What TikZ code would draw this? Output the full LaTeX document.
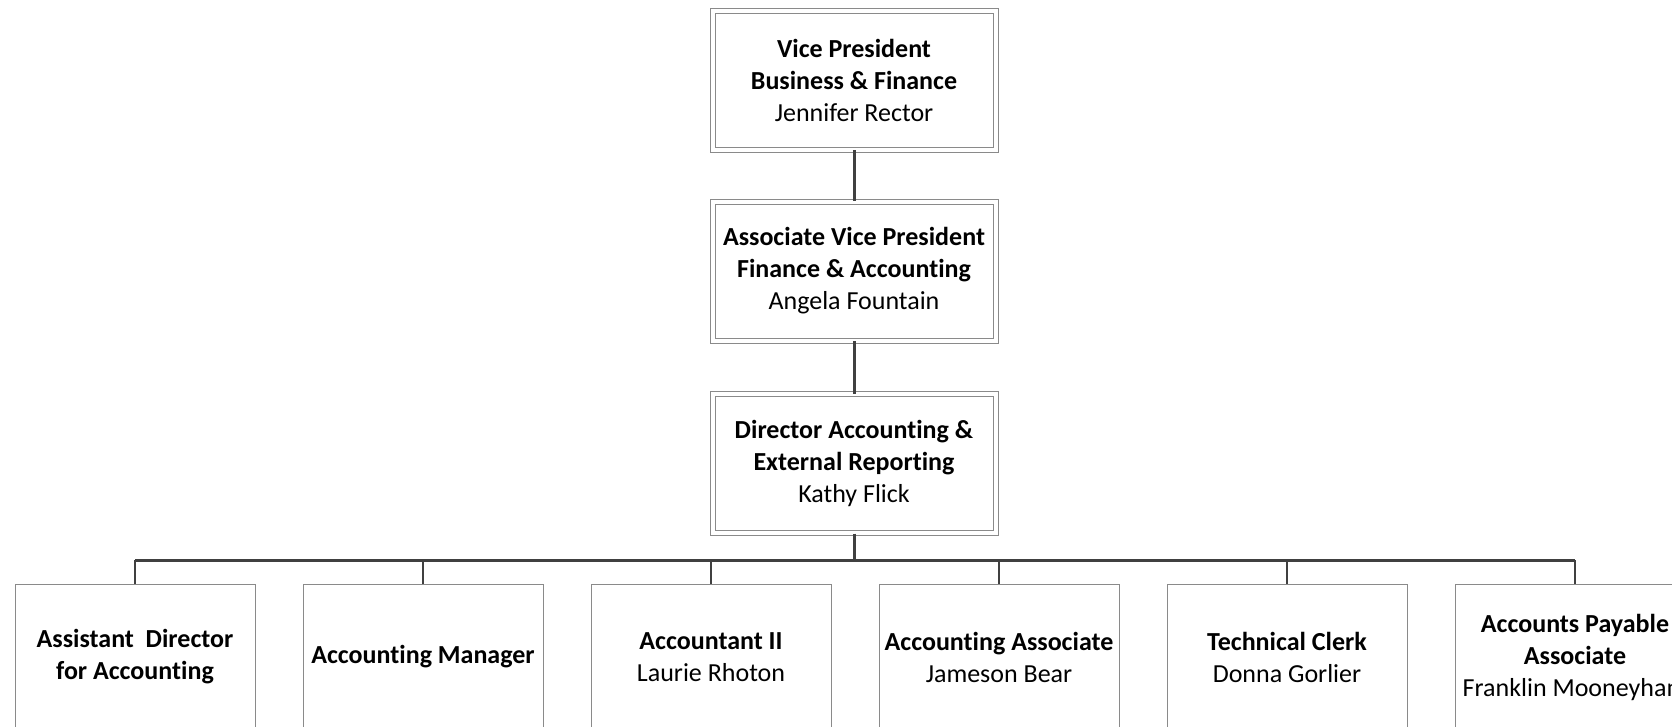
\documentclass[tikz,border=0pt]{standalone}
\usepackage{fontspec}
\setmainfont{Carlito}[RawFeature=-liga]
\usepackage{xcolor}
\definecolor{boxgray}{HTML}{8A8A8A}
\definecolor{linkgray}{HTML}{404040}

\begin{document}
\begin{tikzpicture}[x=1pt,y=1pt]
		\tikzset{headbox/.style = {shape=rectangle, draw=boxgray, line width=1pt, double=white, double distance=4pt,
				minimum width=283pt, minimum height=139pt, inner sep=0pt, align=center,
				font=\fontsize{26}{32}\selectfont}}
		\tikzset{staffbox/.style = {shape=rectangle, draw=boxgray, line width=1pt,
				minimum width=240pt, minimum height=146pt, inner sep=0pt, align=center,
				font=\fontsize{26}{32}\selectfont}}
		\tikzset{link/.style = {draw=linkgray, line width=3pt}}

		\useasboundingbox (0,0) rectangle (1672,-726);
		\clip (0,0) rectangle (1672,-726);

		\node[headbox] (VP) at (854,-80) {\textbf{Vice President}\\\textbf{Business \& Finance}\\Jennifer Rector};
		\node[headbox] (AVP) at (854,-271) {\textbf{Associate Vice President}\\\textbf{Finance \& Accounting}\\Angela Fountain};
		\node[headbox] (DIR) at (854,-463.5) {\textbf{Director Accounting \&}\\\textbf{External Reporting}\\Kathy Flick};

		\node[staffbox] (S1) at (135,-657) {\textbf{Assistant\ \ Director}\\\textbf{for Accounting}};
		\node[staffbox] (S2) at (423,-657) {\textbf{Accounting Manager}};
		\node[staffbox] (S3) at (711,-657) {\textbf{Accountant II}\\Laurie Rhoton};
		\node[staffbox] (S4) at (999,-657) {\textbf{Accounting Associate}\\Jameson Bear};
		\node[staffbox] (S5) at (1287,-657) {\textbf{Technical Clerk}\\Donna Gorlier};
		\node[staffbox] (S6) at (1575,-657) {\textbf{Accounts Payable}\\\textbf{Associate}\\Franklin Mooneyham};

		\coordinate (bus) at (854,-560);

		\draw[link] (VP) to (AVP);
		\draw[link] (AVP) to (DIR);
		\draw[link] (DIR) to (bus);
		\draw[link] (S1.north |- bus) -- (S6.north |- bus);
		\foreach \s in {S1,S2,S3,S4,S5,S6}
			\draw[link, line width=2.2pt] (\s.north |- bus) -- (\s.north);
	\end{tikzpicture}
\end{document}
